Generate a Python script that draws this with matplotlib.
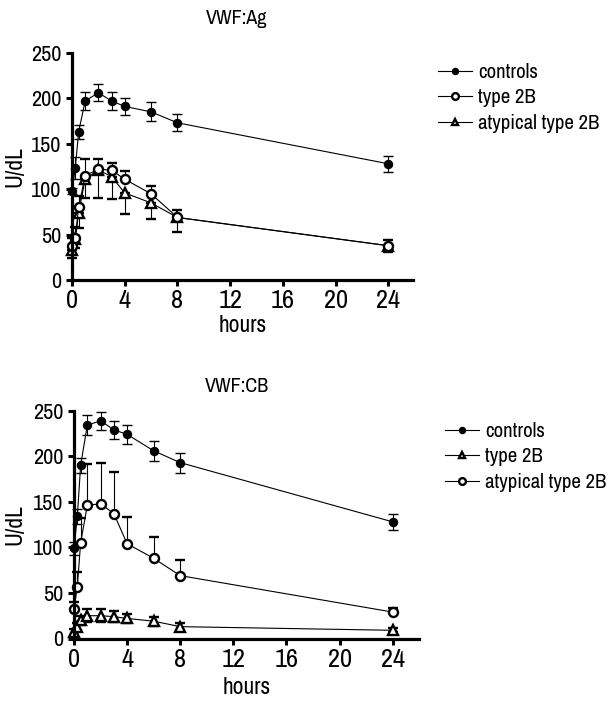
import matplotlib
matplotlib.use("Agg")
import matplotlib.pyplot as plt
from matplotlib import font_manager
import numpy as np

# pick a condensed sans font if one is installed, otherwise Liberation Sans
names = sorted({f.name for f in font_manager.fontManager.ttflist})
narrow = [n for n in names if ('Narrow' in n or 'Condensed' in n) and 'Mono' not in n]
if narrow:
    FONT = narrow[0]
    SZ = dict(ytick=16, xtick=19, label=17, legend=15, title=14.5)
else:
    FONT = 'Liberation Sans'
    SZ = dict(ytick=12.5, xtick=14, label=14.5, legend=12.5, title=12.5)
plt.rcParams['font.family'] = [FONT, 'DejaVu Sans']

# ---------------- data ----------------
hours = [0, 0.25, 0.5, 1, 2, 3, 4, 6, 8, 24]
x_ticks = [0, 4, 8, 12, 16, 20, 24]
y_ticks = [0, 50, 100, 150, 200, 250]

# VWF:Ag panel
ag_controls = [98, 123, 163, 197, 206, 197, 191, 185, 173, 128]
ag_controls_sd = [3, 12, 8, 9.5, 9.5, 9.5, 9.5, 10.5, 9.5, 9]
ag_type2b = [38, 47, 80, 115, 122, 121, 111, 95, 69, 38]
ag_type2b_sd = [8, 12, 13, 18, 11, 8, 9.5, 9, 8, 6]
ag_atypical = [33, 45, 74, 111, 121, 114, 96, 85, 69, 38]
ag_atypical_sd = [8, 10, 17, 21, 31, 25, 23, 18, 16, 7]

# VWF:CB panel
cb_controls = [99, 134, 190, 234, 239, 229, 224, 206, 193, 128]
cb_controls_sd = [7, 8, 8, 11, 10, 10, 10, 11, 11, 9]
cb_type2b = [7, 13, 20, 25, 25, 24, 22, 19, 13, 9]
cb_type2b_sd = [3, 4, 5, 7, 7, 6, 5, 5, 4, 2]
cb_atypical = [32, 57, 105, 146, 148, 137, 104, 88, 69, 29]
cb_atypical_sd = [8, 16, 27, 46, 45, 46, 29, 23, 17, 5]

# ---------------- figure ----------------
W, H = 613, 706
fig = plt.figure(figsize=(W / 100, H / 100), dpi=100)

def px_ax(left, top, right, bottom):
    return fig.add_axes([left / W, 1 - bottom / H, (right - left) / W, (bottom - top) / H])

ax1 = px_ax(72, 52.7, 413, 280.3)
ax2 = px_ax(74, 410.7, 419, 638.5)

err_kw = dict(elinewidth=0.8, capsize=3.6, capthick=0.8, ecolor='black')
line_kw = dict(color='black', lw=0.8, clip_on=False)

def style(ax, xmax, hours_center_px):
    ax.set_xlim(0, xmax)
    ax.set_ylim(0, 250)
    for s in ['top', 'right']:
        ax.spines[s].set_visible(False)
    for s in ['left', 'bottom']:
        ax.spines[s].set_linewidth(2.3)
        ax.spines[s].set_zorder(5)
    ax.set_xticks(x_ticks)
    ax.set_yticks(y_ticks)
    ax.tick_params(axis='both', direction='out', length=4.5, width=2.2, color='black')
    ax.tick_params(axis='x', labelsize=SZ['xtick'], pad=2)
    ax.tick_params(axis='y', labelsize=SZ['ytick'], pad=3)
    ax.set_xlabel('hours', fontsize=SZ['label'], va='center')
    ax.set_ylabel('U/dL', fontsize=SZ['label'], va='center')
    bb = ax.get_position()
    axw_px = bb.width * W
    axh_px = bb.height * H
    ax.yaxis.set_label_coords(-(bb.x0 * W - 15) / axw_px, 0.5)
    ax.xaxis.set_label_coords(0.5, -(hours_center_px - (1 - bb.y0) * H) / axh_px)

def plot_series(ax, y, sd, marker, filled, label, mode='both', ms=7):
    sd = np.asarray(sd, dtype=float)
    zeros = np.zeros_like(sd)
    if mode == 'up':
        yerr = [zeros, sd]
    elif mode == 'down':
        yerr = [sd, zeros]
    else:
        yerr = [sd, sd]
    eb = ax.errorbar(hours, y, yerr=yerr, fmt='-' + marker, ms=ms,
                     mfc='black' if filled else 'white', mec='black',
                     mew=1.0 if filled else 1.7, label=label, **line_kw, **err_kw)
    for c in eb.get_children():
        c.set_clip_on(False)
    return eb[0]

handles1 = {}
handles1['controls'] = plot_series(ax1, ag_controls, ag_controls_sd, 'o', True, 'controls', 'both', ms=5.8)
handles1['atypical type 2B'] = plot_series(ax1, ag_atypical, ag_atypical_sd, '^', False, 'atypical type 2B', 'down', ms=6.5)
handles1['type 2B'] = plot_series(ax1, ag_type2b, ag_type2b_sd, 'o', False, 'type 2B', 'up', ms=6.5)
style(ax1, (413 - 72) / 13.18, 326)

handles2 = {}
handles2['controls'] = plot_series(ax2, cb_controls, cb_controls_sd, 'o', True, 'controls', 'both', ms=5.8)
handles2['type 2B'] = plot_series(ax2, cb_type2b, cb_type2b_sd, '^', False, 'type 2B', 'both', ms=6.5)
handles2['atypical type 2B'] = plot_series(ax2, cb_atypical, cb_atypical_sd, 'o', False, 'atypical type 2B', 'up', ms=6.5)
style(ax2, (419 - 74) / 13.28, 688)

order = ['controls', 'type 2B', 'atypical type 2B']

def make_legend(hmap, left_px, top_px):
    fs = SZ['legend']
    fpx = fs * 100 / 72
    return fig.legend([hmap[l] for l in order], order, loc='upper left',
                      bbox_to_anchor=(left_px / W, 1 - top_px / H),
                      frameon=False, fontsize=fs, handlelength=34 / fpx,
                      handletextpad=6 / fpx, labelspacing=0.31, borderpad=0,
                      borderaxespad=0, markerscale=0.75)

make_legend(handles1, 438, 63)
make_legend(handles2, 445, 422)

fig.text(237 / W, 1 - 18 / H, 'VWF:Ag', ha='center', va='center', fontsize=SZ['title'])
fig.text(237 / W, 1 - 386 / H, 'VWF:CB', ha='center', va='center', fontsize=SZ['title'])

fig.savefig('out.png', dpi=100)
